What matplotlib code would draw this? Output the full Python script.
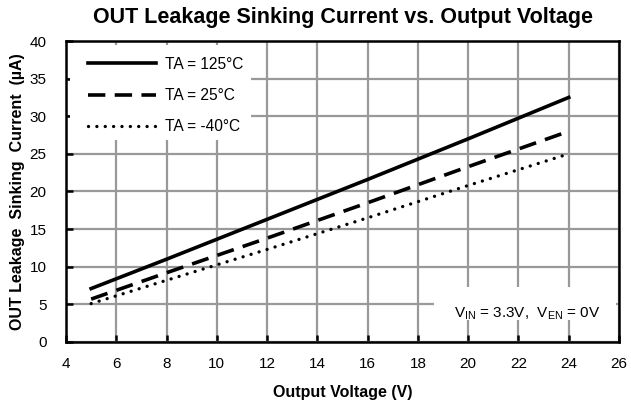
import matplotlib.pyplot as plt
from matplotlib.patches import Rectangle

plt.rcParams['font.family'] = ['Liberation Sans', 'DejaVu Sans']
plt.rcParams['mathtext.fontset'] = 'custom'
plt.rcParams['mathtext.rm'] = 'Liberation Sans'

# output voltage (V)
vout = [5, 8, 12, 16, 20, 24]
# leakage current (uA) per temperature
i_125 = [7.1, 11.0, 16.3, 21.6, 27.0, 32.5]
i_25 = [5.7, 9.2, 13.8, 18.5, 23.3, 28.0]
i_m40 = [5.1, 8.2, 12.3, 16.5, 20.8, 25.0]
labels = ['TA = 125°C', 'TA = 25°C', 'TA = -40°C']

fig = plt.figure(figsize=(6.31, 4.04), dpi=100)
ax = fig.add_axes([0.1046, 0.1535, 0.8764, 0.745])

ax.plot(vout, i_125, color='black', lw=2.6, label=labels[0])
ax.plot(vout, i_25, color='black', lw=2.6, dashes=(4.8, 2.6), label=labels[1])
ax.plot(vout, i_m40, color='black', lw=2.4, dashes=(0.01, 2.5),
        dash_capstyle='round', label=labels[2])

ax.set_xlim(4, 26)
ax.set_ylim(0, 40)
ax.set_xticks(range(4, 27, 2))
ax.set_yticks(range(0, 41, 5))
ax.grid(True, color='#999999', lw=1.6)
ax.set_axisbelow(True)
for s in ax.spines.values():
    s.set_linewidth(1.8)
ax.tick_params(direction='in', length=5, width=1.8, labelsize=11)
ax.tick_params(axis='x', pad=11)
ax.tick_params(axis='y', pad=14)

ax.set_title('OUT Leakage Sinking Current vs. Output Voltage',
             fontsize=15.5, fontweight='bold', pad=13)
ax.set_xlabel('Output Voltage (V)', fontsize=11.5, fontweight='bold', labelpad=10)
ax.set_ylabel('OUT Leakage  Sinking  Current  (µA)', fontsize=11.5,
              fontweight='bold', labelpad=3)

# white boxes over the grid behind legend and note
ax.add_patch(Rectangle((0.008, 0.672), 0.326, 0.314, transform=ax.transAxes,
                       facecolor='white', edgecolor='none', zorder=1))
ax.add_patch(Rectangle((0.665, 0.073), 0.33, 0.11, transform=ax.transAxes,
                       facecolor='white', edgecolor='none', zorder=1))

leg = ax.legend(loc='upper left', bbox_to_anchor=(0.0398, 0.948),
                frameon=False, fontsize=11.2, handlelength=4.4,
                handletextpad=0.58, labelspacing=1.05, borderpad=0,
                borderaxespad=0)

ax.text(0.966, 0.094, r'$\mathregular{V_{IN}}$ = 3.3V,  $\mathregular{V_{EN}}$ = 0V',
        transform=ax.transAxes, ha='right', va='center', fontsize=11, zorder=3)

fig.savefig('out.png', dpi=100)
